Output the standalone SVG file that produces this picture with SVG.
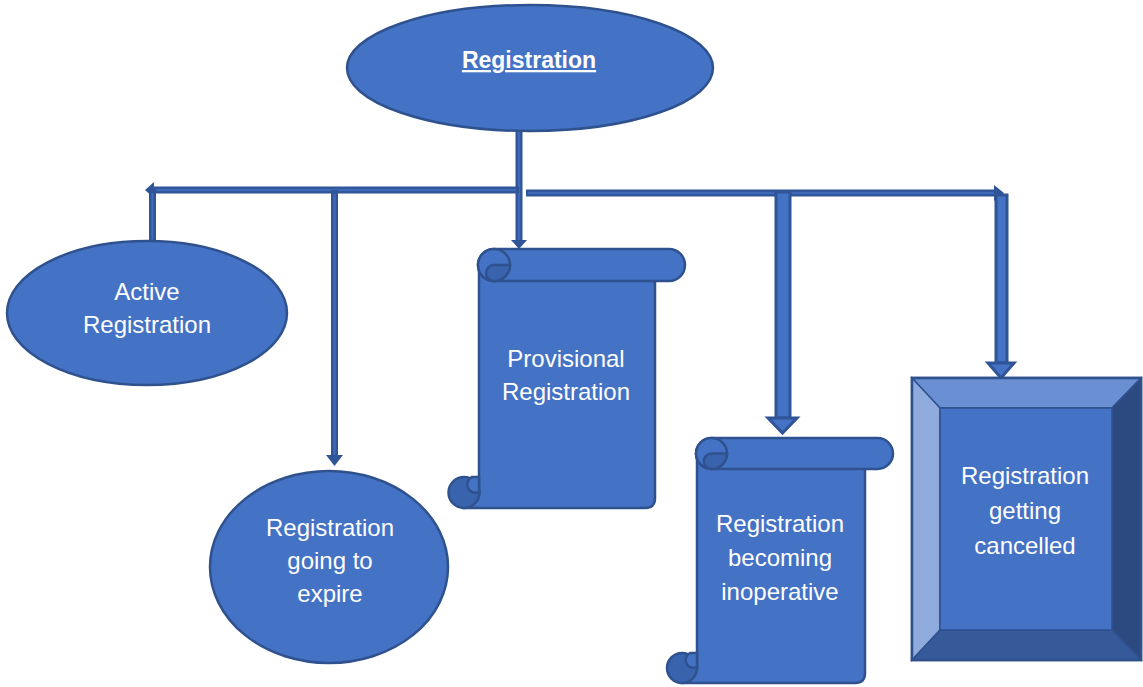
<svg xmlns="http://www.w3.org/2000/svg" width="1143" height="687" viewBox="0 0 1143 687">
<defs>
<style>
.shape{fill:#4472C4;stroke:#2F528F;stroke-width:2.5}
.dark{fill:#3A63AE;stroke:#2F528F;stroke-width:2.5}
.ln{fill:none;stroke:#2F5597;stroke-width:7}
.lnin{fill:none;stroke:#3E69B8;stroke-width:2.5}
.thick{fill:#4472C4;stroke:#2F5597;stroke-width:3}
.head{fill:#2F5597}
.t{font-family:"Liberation Sans",Arial,sans-serif;font-size:24px;fill:#ffffff;text-anchor:middle}
.title{font-family:"Liberation Sans",Arial,sans-serif;font-size:23px;font-weight:bold;fill:#ffffff;text-anchor:middle;text-decoration:underline}
</style>
</defs>
<rect width="1143" height="687" fill="#ffffff"/>

<g id="connectors">
  <!-- trunk -->
  <path class="ln" d="M519,130 V240"/>
  <path class="lnin" d="M519,132 V240"/>
  <polygon class="head" points="511,240 527,240 519,249"/>
  <!-- left bar -->
  <path class="ln" d="M152,190 H519"/>
  <path class="lnin" d="M156,190 H516"/>
  <polygon class="head" points="154,182 154,198 145,190"/>
  <path class="ln" d="M152.5,190 V243"/>
  <path class="lnin" d="M152.5,193 V243"/>
  <path class="ln" d="M334.5,190 V456"/>
  <path class="lnin" d="M334.5,194 V456"/>
  <polygon class="head" points="326,455 343,455 334.5,466"/>
  <!-- right bar -->
  <path class="ln" d="M526,193 H995"/>
  <path class="lnin" d="M528,193 H994"/>
  <polygon class="head" points="994,185 994,201 1004,193"/>
  <rect class="thick" x="776" y="192" width="14" height="226"/>
  <polygon class="thick" points="768,418 797,418 782.5,433"/>
  <rect class="thick" x="996" y="195" width="11" height="168"/>
  <polygon class="thick" points="988,363 1014,363 1001,378"/>
</g>

<g id="registration">
  <ellipse class="shape" cx="530" cy="68" rx="183" ry="63"/>
  <text class="title" x="529" y="68">Registration</text>
</g>

<g id="active">
  <ellipse class="shape" cx="147" cy="313" rx="140" ry="72"/>
  <text class="t" x="147" y="300">Active</text>
  <text class="t" x="147" y="333">Registration</text>
</g>

<g id="expire">
  <ellipse class="shape" cx="329" cy="567" rx="119" ry="96"/>
  <text class="t" x="330" y="536">Registration</text>
  <text class="t" x="330" y="569">going to</text>
  <text class="t" x="330" y="602">expire</text>
</g>

<g id="provisional">
  <path class="shape" d="M479,265 V492 H464 V508 H645 Q655,508 655,498 V265 Z"/>
  <rect class="shape" x="478" y="249" width="207" height="32" rx="16"/>
  <circle class="shape" cx="494" cy="265" r="16"/>
  <path class="dark" d="M494,281 A16,16 0 0 0 510,265 L494,265 A8,8 0 0 0 494,281 Z"/>
  <circle class="dark" cx="464" cy="492.5" r="15.5"/>
  <path class="shape" d="M472,477 H479 V492 A7.5,7.5 0 0 1 472,477 Z"/>
  <text class="t" x="566" y="367">Provisional</text>
  <text class="t" x="566" y="400">Registration</text>
</g>

<g id="inoperative">
  <path class="shape" d="M697,454 V668 H682 V683 H855 Q865,683 865,673 V454 Z"/>
  <rect class="shape" x="696" y="438" width="197" height="31" rx="15.5"/>
  <circle class="shape" cx="711.5" cy="453.5" r="15.5"/>
  <path class="dark" d="M711.5,469 A15.5,15.5 0 0 0 727,453.5 L711.5,453.5 A7.75,7.75 0 0 0 711.5,469 Z"/>
  <circle class="dark" cx="682" cy="668" r="15"/>
  <path class="shape" d="M690,653 H697 V667 A7,7 0 0 1 690,653 Z"/>
  <text class="t" x="780" y="532">Registration</text>
  <text class="t" x="780" y="566">becoming</text>
  <text class="t" x="780" y="600">inoperative</text>
</g>

<g id="cancelled">
  <rect x="912" y="378" width="229" height="282" fill="#4472C4" stroke="#2F528F" stroke-width="2.5"/>
  <polygon points="912,378 1141,378 1112,408 940,408" fill="#6A8FD2" stroke="#2F528F" stroke-width="1.5"/>
  <polygon points="912,378 940,408 940,630 912,660" fill="#8FAADC" stroke="#2F528F" stroke-width="1.5"/>
  <polygon points="1141,378 1141,660 1112,630 1112,408" fill="#2C4A80" stroke="#2F528F" stroke-width="1.5"/>
  <polygon points="912,660 940,630 1112,630 1141,660" fill="#36599A" stroke="#2F528F" stroke-width="1.5"/>
  <rect x="940" y="408" width="172" height="222" fill="#4472C4" stroke="#2F528F" stroke-width="1.5"/>
  <rect x="912" y="378" width="229" height="282" fill="none" stroke="#2F528F" stroke-width="2.5"/>
  <text class="t" x="1025" y="484">Registration</text>
  <text class="t" x="1025" y="519">getting</text>
  <text class="t" x="1025" y="554">cancelled</text>
</g>
</svg>
